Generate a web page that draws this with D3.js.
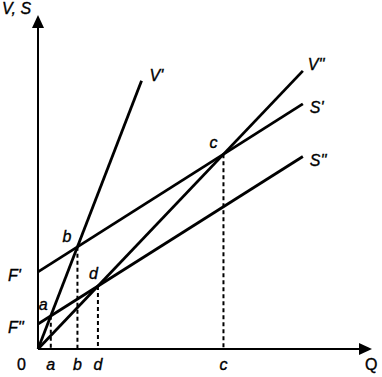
<!DOCTYPE html>
<html>
<head>
<meta charset="utf-8">
<script src="https://cdn.jsdelivr.net/npm/d3@7"></script>
<style>
  body { margin: 0; background: #fff; }
  text { font-family: "Liberation Sans", Arial, sans-serif; font-style: italic; font-size: 16px; fill: #000; stroke: #000; stroke-width: 0.35; }
</style>
</head>
<body>
<svg id="chart" width="382" height="377"></svg>
<script>
// lines in data units: intercept (fixed cost), slope, last Q drawn
const lineNames = ["V'", "V''", "S'", "S''"];
const intercepts = [0, 0, 2.31, 0.75];
const slopes = [2.59, 1.05, 0.634, 0.632];
const endQ = [3.1, 7.93, 7.93, 7.93];

// intersection points: [label, line i, line j]
const pointNames = ["a", "b", "c", "d"];
const pointPairs = [[0, 3], [0, 2], [1, 2], [1, 3]];

const fixedNames = ["F'", "F''"];
const fixedValues = [2.31, 0.75];

const svg = d3.select("#chart");
const x = d3.scaleLinear().domain([0, 10]).range([38, 372]);
const y = d3.scaleLinear().domain([0, 10]).range([349, 15]);

// axes
svg.append("line")
  .attr("x1", x(0)).attr("y1", y(0)).attr("x2", x(0)).attr("y2", y(9.7))
  .attr("stroke", "#000").attr("stroke-width", 2);
svg.append("line")
  .attr("x1", x(0)).attr("y1", y(0)).attr("x2", x(9.7)).attr("y2", y(0))
  .attr("stroke", "#000").attr("stroke-width", 2);
svg.append("path")
  .attr("d", `M${x(0)},${y(10)} L${x(0) - 6},${y(10) + 13} L${x(0) + 6},${y(10) + 13} Z`)
  .attr("fill", "#000");
svg.append("path")
  .attr("d", `M${x(10)},${y(0)} L${x(10) - 13},${y(0) - 6} L${x(10) - 13},${y(0) + 6} Z`)
  .attr("fill", "#000");

// intersections
const pts = pointPairs.map(([i, j], k) => {
  const q = (intercepts[j] - intercepts[i]) / (slopes[i] - slopes[j]);
  return { name: pointNames[k], q: q, v: intercepts[i] + slopes[i] * q };
});

// dashed drop lines
svg.append("g")
  .selectAll("line")
  .data(pts)
  .join("line")
  .attr("x1", (d) => x(d.q)).attr("x2", (d) => x(d.q))
  .attr("y1", (d) => y(d.v)).attr("y2", y(0))
  .attr("stroke", "#000")
  .attr("stroke-width", 2)
  .attr("stroke-dasharray", "4,3");

// cost / revenue lines
const lineData = lineNames.map((n, i) => ({ name: n, a: intercepts[i], b: slopes[i], end: endQ[i] }));
svg.append("g")
  .selectAll("line")
  .data(lineData)
  .join("line")
  .attr("x1", x(0)).attr("y1", (d) => y(d.a))
  .attr("x2", (d) => x(d.end)).attr("y2", (d) => y(d.a + d.b * d.end))
  .attr("stroke", "#000")
  .attr("stroke-width", 2.8);

// line labels
const lineLabelOff = [[8, 0], [5, -1], [7, 9], [7, 9]];
svg.append("g")
  .selectAll("text")
  .data(lineData)
  .join("text")
  .attr("x", (d, i) => x(d.end) + lineLabelOff[i][0])
  .attr("y", (d, i) => y(d.a + d.b * d.end) + lineLabelOff[i][1])
  .text((d) => d.name);

// point labels near intersections
const ptLabelOff = [[-12, -6], [-15, -5], [-14, -6], [-9, -7]];
svg.append("g")
  .selectAll("text")
  .data(pts)
  .join("text")
  .attr("x", (d, i) => x(d.q) + ptLabelOff[i][0])
  .attr("y", (d, i) => y(d.v) + ptLabelOff[i][1])
  .text((d) => d.name);

// point labels on Q axis
svg.append("g")
  .selectAll("text")
  .data(pts)
  .join("text")
  .attr("x", (d) => x(d.q))
  .attr("y", y(0) + 21)
  .attr("text-anchor", "middle")
  .text((d) => d.name);

// fixed cost labels
svg.append("g")
  .selectAll("text")
  .data(fixedValues)
  .join("text")
  .attr("x", 8)
  .attr("y", (d) => y(d) + 9)
  .text((d, i) => fixedNames[i]);

svg.append("text").attr("x", 17).attr("y", y(0) + 21).style("font-style", "normal").text("0");
svg.append("text").attr("x", 365).attr("y", y(0) + 21).style("font-style", "normal").text("Q");
svg.append("text").attr("x", 2).attr("y", 14).text("V, S");
</script>
</body>
</html>
